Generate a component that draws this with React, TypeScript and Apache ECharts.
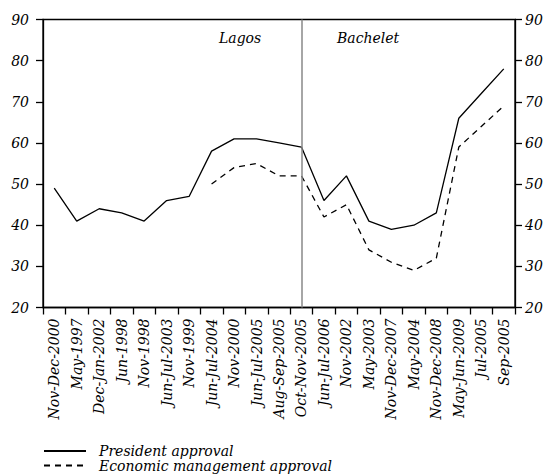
import React, { useEffect, useRef } from "react";
import * as echarts from "echarts";

const categories = [
  "Nov-Dec-2000", "May-1997", "Dec-Jan-2002", "Jun-1998", "Nov-1998",
  "Jun-Jul-2003", "Nov-1999", "Jun-Jul-2004", "Nov-2000", "Jun-Jul-2005",
  "Aug-Sep-2005", "Oct-Nov-2005", "Jun-Jul-2006", "Nov-2002", "May-2003",
  "Nov-Dec-2007", "May-2004", "Nov-Dec-2008", "May-Jun-2009", "Jul-2005",
  "Sep-2005",
];

const presidentApproval = [
  49, 41, 44, 43, 41, 46, 47, 58, 61, 61, 60, 59, 46, 52, 41, 39, 40, 43, 66, 72, 78,
];

const economicApproval = [
  null, null, null, null, null, null, null, 50, 54, 55, 52, 52, 42, 45, 34, 31, 29, 32, 59, 64, 69,
];

const yTicks = { min: 20, max: 90, interval: 10 };
const transitionCategory = "Oct-Nov-2005";
const periodLabels = ["Lagos", "Bachelet"];

const FONT = "DejaVu Serif";

export default function App() {
  const ref = useRef<HTMLDivElement>(null);

  useEffect(() => {
    if (!ref.current) return;
    const chart = echarts.init(ref.current, null, { renderer: "svg" });

    const axisLabelStyle = {
      fontFamily: FONT,
      fontStyle: "italic" as const,
      fontSize: 14,
      color: "#000",
    };

    const yAxisCommon = {
      type: "value" as const,
      min: yTicks.min,
      max: yTicks.max,
      interval: yTicks.interval,
      axisLine: { show: true, lineStyle: { color: "#000", width: 1.3 } },
      axisTick: { show: true, length: 7, lineStyle: { color: "#000", width: 1.3 } },
      splitLine: { show: false },
    };

    chart.setOption({
      animation: false,
      grid: {
        left: 43,
        right: 32,
        top: 19.5,
        bottom: 167.5,
        show: true,
        borderColor: "#000",
        borderWidth: 1.3,
        containLabel: false,
      },
      xAxis: {
        type: "category",
        data: categories,
        boundaryGap: true,
        axisLine: { show: true, lineStyle: { color: "#000", width: 1.3 } },
        axisTick: { show: true, length: 7, lineStyle: { color: "#000", width: 1.3 } },
        axisLabel: {
          ...axisLabelStyle,
          rotate: 90,
          interval: 0,
          margin: 11,
        },
      },
      yAxis: [
        {
          ...yAxisCommon,
          position: "left",
          axisLabel: { ...axisLabelStyle, margin: 14 },
        },
        {
          ...yAxisCommon,
          position: "right",
          axisLabel: { ...axisLabelStyle, margin: 10 },
        },
      ],
      legend: {
        orient: "vertical",
        left: 43,
        top: 444,
        itemWidth: 42,
        itemHeight: 14,
        itemGap: 0.5,
        padding: 0,
        itemStyle: { opacity: 0 },
        textStyle: {
          fontFamily: FONT,
          fontStyle: "italic",
          fontSize: 14,
          lineHeight: 14,
          color: "#000",
          padding: [0, 0, 0, 8],
        },
        data: ["President approval", "Economic management approval"],
      },
      graphic: [
        {
          type: "text",
          left: 219,
          top: 31,
          style: { text: periodLabels[0], font: `italic 14px "${FONT}"`, fill: "#000" },
        },
        {
          type: "text",
          left: 337,
          top: 31,
          style: { text: periodLabels[1], font: `italic 14px "${FONT}"`, fill: "#000" },
        },
      ],
      series: [
        {
          name: "President approval",
          type: "line",
          data: presidentApproval,
          symbol: "none",
          lineStyle: { color: "#000", width: 1.3 },
          itemStyle: { color: "#000" },
          markLine: {
            silent: true,
            symbol: "none",
            label: { show: false },
            lineStyle: { color: "#888", width: 1.5, type: "solid" },
            data: [{ xAxis: transitionCategory }],
          },
        },
        {
          name: "Economic management approval",
          type: "line",
          data: economicApproval,
          symbol: "none",
          connectNulls: false,
          lineStyle: { color: "#000", width: 1.3, type: [6, 5] },
          itemStyle: { color: "#000" },
        },
      ],
    });

    return () => chart.dispose();
  }, []);

  return (
    <div
      ref={ref}
      style={{ position: "absolute", left: 0, top: 0, width: 547, height: 475 }}
    />
  );
}
